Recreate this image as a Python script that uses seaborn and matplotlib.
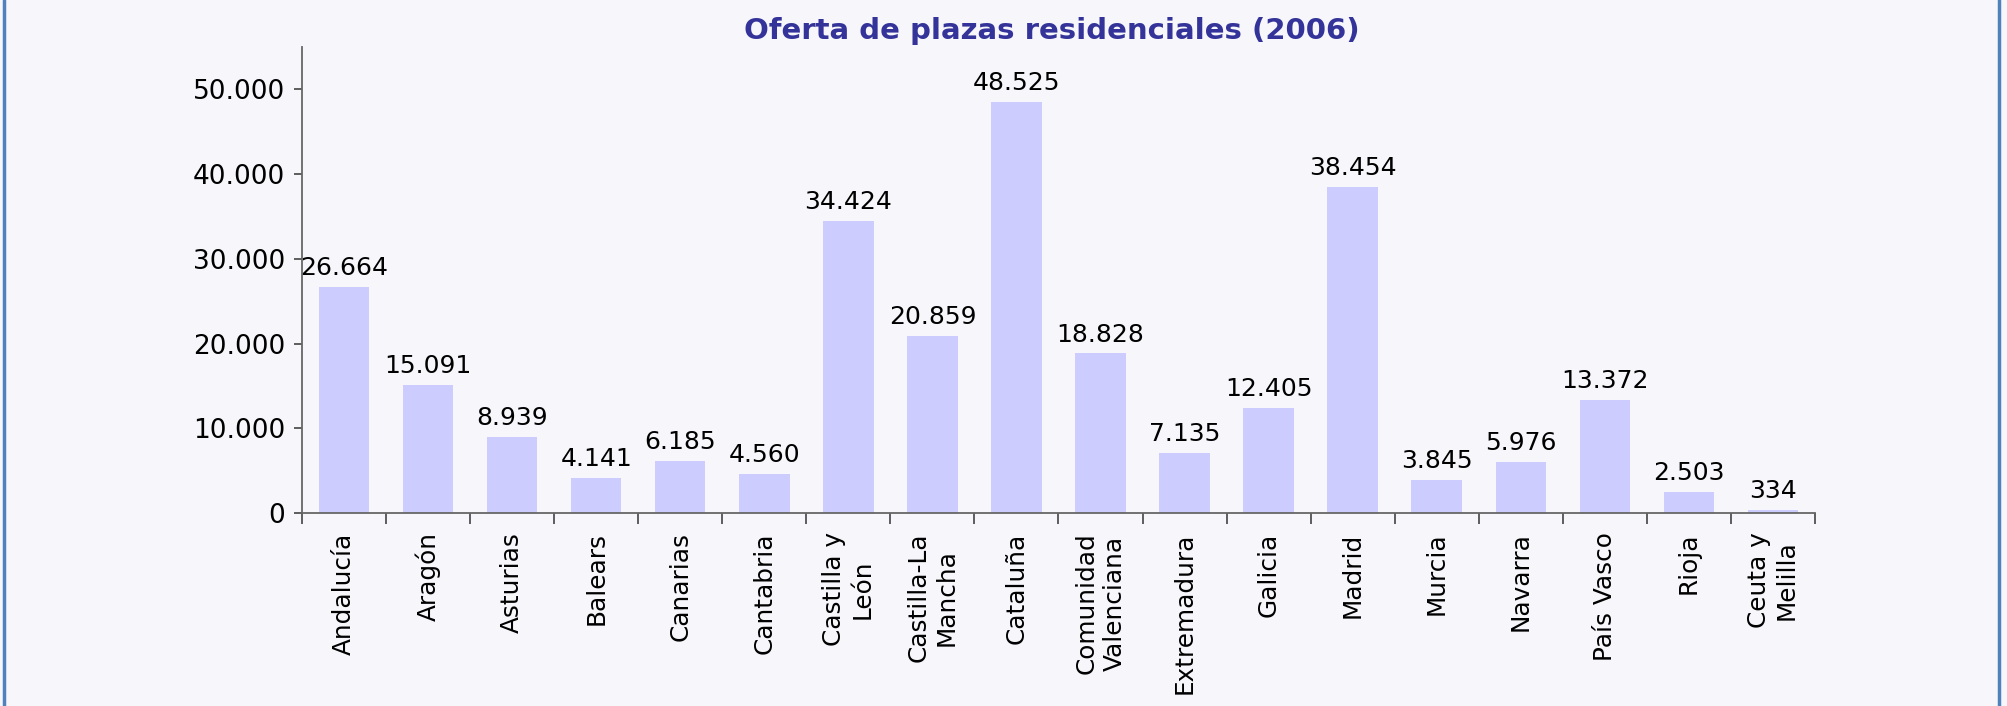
import pandas as pd
import seaborn as sns
import matplotlib.pyplot as plt
from matplotlib.lines import Line2D

# Data
regiones = ["Andalucía", "Aragón", "Asturias", "Balears", "Canarias", "Cantabria",
            "Castilla y\nLeón", "Castilla-La\nMancha", "Cataluña", "Comunidad\nValenciana",
            "Extremadura", "Galicia", "Madrid", "Murcia", "Navarra", "País Vasco",
            "Rioja", "Ceuta y\nMelilla"]
plazas = [26664, 15091, 8939, 4141, 6185, 4560, 34424, 20859, 48525, 18828,
          7135, 12405, 38454, 3845, 5976, 13372, 2503, 334]
yticks = [0, 10000, 20000, 30000, 40000, 50000]

df = pd.DataFrame({"Region": regiones, "Plazas": plazas})

def miles(v):
    return f"{v:,}".replace(",", ".")

bg = "#F7F6FB"
sns.set_style("ticks")
plt.rcParams["font.family"] = ["DejaVu Sans"]

fig = plt.figure(figsize=(20.07, 7.06), dpi=100, facecolor=bg)
ax = fig.add_axes([0.1505, 0.2734, 0.9043 - 0.1505, 0.9334 - 0.2734])
ax.set_facecolor(bg)

sns.barplot(data=df, x="Region", y="Plazas", color="#CCCCFF", width=0.6,
            saturation=1, linewidth=0, ax=ax)

# Value labels
for p, v in zip(ax.patches, plazas):
    ax.annotate(miles(v), (p.get_x() + p.get_width() / 2, p.get_height()),
                xytext=(0, 5), textcoords="offset points",
                ha="center", va="bottom", fontsize=18, color="black")

ax.set_xlim(-0.5, len(regiones) - 0.5)
ax.set_ylim(0, 55000)
ax.set_yticks(yticks)
ax.set_yticklabels([miles(t) for t in yticks], fontsize=19, color="black")
ax.set_xticks(range(len(regiones)))
ax.set_xticklabels(regiones, rotation=90, fontsize=17.8, va="top", ha="center",
                   multialignment="center", color="black")
ax.set_xticks([i - 0.5 for i in range(len(regiones) + 1)], minor=True)
ax.tick_params(axis="x", which="major", bottom=True, length=0, pad=14)
ax.tick_params(axis="x", which="minor", bottom=True, length=8, width=1.2,
               color="#444444", direction="out")
ax.tick_params(axis="y", left=True, length=6, width=1.2, color="#444444",
               direction="out", pad=6)
ax.set_xlabel("")
ax.set_ylabel("")

for s in ["top", "right"]:
    ax.spines[s].set_visible(False)
for s in ["left", "bottom"]:
    ax.spines[s].set_color("#666666")
    ax.spines[s].set_linewidth(1.3)

# Title
fig.text(0.524, 0.956, "Oferta de plazas residenciales (2006)", ha="center", va="center",
         fontsize=21, fontweight="bold", color="#333399")

# Frame lines on the sides
fig.add_artist(Line2D([0.0022, 0.0022], [0, 1], transform=fig.transFigure,
                      color="#4F81BD", linewidth=2.5))
fig.add_artist(Line2D([0.9960, 0.9960], [0, 1], transform=fig.transFigure,
                      color="#4F81BD", linewidth=2.5))

fig.savefig("out.png", dpi=100, facecolor=bg)
